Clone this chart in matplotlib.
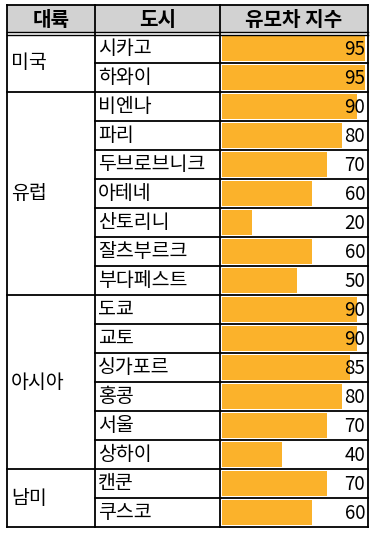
import matplotlib.pyplot as plt
from matplotlib.patches import Rectangle

plt.rcParams['font.family'] = ['Noto Sans CJK KR', 'DejaVu Sans']

# === DATA ===
headers = ['대륙', '도시', '유모차 지수']
continents = ['미국', '유럽', '아시아', '남미']
group_sizes = [2, 7, 6, 2]
cities = ['시카고', '하와이',
          '비엔나', '파리', '두브로브니크', '아테네', '산토리니', '잘츠부르크', '부다페스트',
          '도쿄', '교토', '싱가포르', '홍콩', '서울', '상하이',
          '캔쿤', '쿠스코']
scores = [95, 95,
          90, 80, 70, 60, 20, 60, 50,
          90, 90, 85, 80, 70, 40,
          70, 60]

# layout in pixels
W, H = 375, 533
col_x = [7, 95, 220, 368]
top, head_h, row_h = 5, 29, 29
bar_color = '#FBB22B'
head_color = '#D2D2D2'
lw = 1.3

n = len(cities)
body_top = top + head_h
bottom = body_top + n * row_h

fig = plt.figure(figsize=(W / 100, H / 100), dpi=100)

# bars in their own axes (added first so text sits on top)
bax = fig.add_axes([222 / W, 1 - bottom / H, (col_x[3] - 222) / W, n * row_h / H])
bax.barh(range(n), scores, height=0.86, color=bar_color)
bax.set_xlim(0, (col_x[3] - 222) / 1.5)
bax.set_ylim(n - 0.5, -0.5)
bax.axis('off')

ax = fig.add_axes([0, 0, 1, 1])
ax.patch.set_alpha(0)
ax.set_xlim(0, W)
ax.set_ylim(H, 0)
ax.axis('off')

# header
ax.add_patch(Rectangle((col_x[0], top), col_x[-1] - col_x[0], head_h - 2,
                       facecolor=head_color, edgecolor='none', zorder=0))
for i, h in enumerate(headers):
    ax.text((col_x[i] + col_x[i + 1]) / 2, top + head_h / 2, h,
            ha='center', va='center', fontsize=14.5, fontweight='bold')

# text
for i, (c, s) in enumerate(zip(cities, scores)):
    yc = body_top + (i + 0.5) * row_h
    ax.text(col_x[1] + 3, yc, c, ha='left', va='center', fontsize=14)
    ax.text(col_x[3] - 3, yc + 1, str(s), ha='right', va='center', fontsize=13.5)

start = 0
for name, size in zip(continents, group_sizes):
    yc = body_top + (start + size / 2) * row_h
    ax.text(col_x[0] + 4, yc, name, ha='left', va='center', fontsize=14)
    start += size

# grid lines
ax.plot([col_x[0], col_x[-1]], [top, top], color='black', lw=lw)
ax.plot([col_x[0], col_x[-1]], [body_top - 2, body_top - 2], color='black', lw=1)
ax.plot([col_x[0], col_x[-1]], [body_top + 1, body_top + 1], color='black', lw=1)
ax.plot([col_x[0], col_x[-1]], [bottom, bottom], color='black', lw=lw)
for x in col_x:
    ax.plot([x, x], [top, bottom], color='black', lw=lw)

bounds = []
start = 0
for size in group_sizes:
    start += size
    bounds.append(start)
for i in range(1, n):
    y = body_top + i * row_h
    x0 = col_x[0] if i in bounds else col_x[1]
    ax.plot([x0, col_x[-1]], [y, y], color='black', lw=lw)

fig.savefig('out.png', dpi=100)
